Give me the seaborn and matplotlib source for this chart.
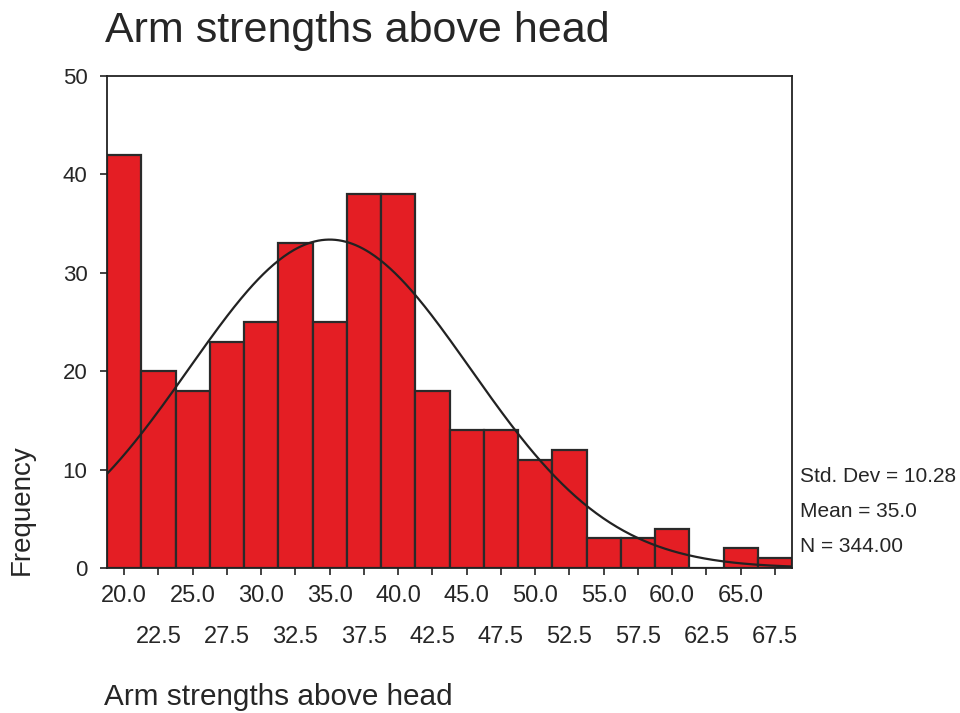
import numpy as np
import pandas as pd
import matplotlib
matplotlib.use("Agg")
import matplotlib.pyplot as plt
import seaborn as sns

# ---- data ----
bin_centers = [20.0, 22.5, 25.0, 27.5, 30.0, 32.5, 35.0, 37.5, 40.0, 42.5,
               45.0, 47.5, 50.0, 52.5, 55.0, 57.5, 60.0, 62.5, 65.0, 67.5]
counts = [42, 20, 18, 23, 25, 33, 25, 38, 38, 18,
          14, 14, 11, 12, 3, 3, 4, 0, 2, 1]
std_dev = 10.28
mean = 35.0
n_total = 344
bin_width = 2.5
y_ticks = [0, 10, 20, 30, 40, 50]
title = "Arm strengths above head"
x_label = "Arm strengths above head"
y_label = "Frequency"

sns.set_theme(style="white")
plt.rcParams['font.family'] = ['Liberation Sans', 'DejaVu Sans']

df = pd.DataFrame({"value": bin_centers, "count": counts})

fig = plt.figure(figsize=(9.6, 7.13), dpi=100)
ax = fig.add_axes([0.1115, 0.2034, 0.7135, 0.6900])

lo = bin_centers[0] - bin_width / 2
hi = bin_centers[-1] + bin_width / 2
sns.histplot(data=df, x="value", weights="count", binwidth=bin_width,
             binrange=(lo, hi), color="#E41E24", alpha=1.0,
             edgecolor="#2a2a2a", linewidth=1.6, ax=ax)

# fitted normal curve from the reported statistics
xs = np.linspace(lo, hi, 400)
ys = n_total * bin_width / (std_dev * np.sqrt(2 * np.pi)) * np.exp(-0.5 * ((xs - mean) / std_dev) ** 2)
sns.lineplot(x=xs, y=ys, color="#222222", linewidth=1.6, ax=ax)

txt = "#262626"
ax.set_xlim(lo, hi)
ax.set_ylim(0, 50)
ax.set_yticks(y_ticks)
ax.set_yticklabels([str(t) for t in y_ticks], fontsize=16, color=txt)

major_pos = bin_centers[0::2]
minor_pos = bin_centers[1::2]
ax.set_xticks(major_pos)
ax.set_xticklabels([f"{c:.1f}" for c in major_pos], fontsize=17, color=txt)
ax.set_xticks(minor_pos, minor=True)
ax.set_xticklabels([f"{c:.1f}" for c in minor_pos], minor=True, fontsize=17, color=txt)

ax.tick_params(axis="both", which="both", direction="out", length=5, width=1.2,
               color="#222222", bottom=True, left=True)
ax.tick_params(axis="y", pad=9)
ax.tick_params(axis="x", which="major", pad=7)
ax.tick_params(axis="x", which="minor", pad=37)
for s in ax.spines.values():
    s.set_visible(True)
    s.set_color("#222222")
    s.set_linewidth(1.3)

ax.set_xlabel("")
ax.set_ylabel("")

fig.text(0.109, 0.941, title, fontsize=31, color=txt, ha="left", va="baseline")
fig.text(0.108, 0.011, x_label, fontsize=21.4, color=txt, ha="left", va="baseline")
fig.text(0.023, 0.285, y_label, fontsize=20, color=txt, rotation=90, ha="center", va="center")

stats_x = 0.833
fig.text(stats_x, 0.331, f"Std. Dev = {std_dev:.2f}", fontsize=15, color=txt, ha="left", va="center")
fig.text(stats_x, 0.282, f"Mean = {mean:.1f}", fontsize=15, color=txt, ha="left", va="center")
fig.text(stats_x, 0.233, f"N = {n_total:.2f}", fontsize=15, color=txt, ha="left", va="center")

fig.savefig("out.png", dpi=100, facecolor="white")
